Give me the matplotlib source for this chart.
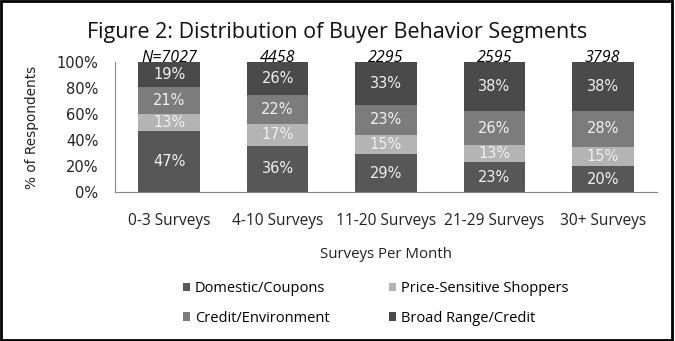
import matplotlib.pyplot as plt
import numpy as np
from matplotlib.patches import Rectangle

categories = ['0-3 Surveys', '4-10 Surveys', '11-20 Surveys', '21-29 Surveys', '30+ Surveys']
n_labels = ['N=7027', '4458', '2295', '2595', '3798']
segments = ['Domestic/Coupons', 'Price-Sensitive Shoppers', 'Credit/Environment', 'Broad Range/Credit']
domestic = [47, 36, 29, 23, 20]
price = [13, 17, 15, 13, 15]
credit = [21, 22, 23, 26, 28]
broad = [19, 26, 33, 38, 38]
colors = ['#575757', '#b4b4b4', '#7c7c7c', '#4a4a4a']

series = [domestic, price, credit, broad]
totals = np.sum(series, axis=0)
font = 'Open Sans'

fig = plt.figure(figsize=(6.75, 3.41), dpi=100)
ax = fig.add_axes([115 / 675, 1 - 192 / 341, 542 / 675, 130 / 341])

x = np.arange(len(categories))
bottom = np.zeros(len(categories))
bars = []
for vals, col, name in zip(series, colors, segments):
    frac = np.array(vals) / totals
    bars.append(ax.bar(x, frac, 0.57, bottom=bottom, color=col, label=name))
    for xi, b, f, v in zip(x, bottom, frac, vals):
        ax.text(xi, b + f / 2, f'{v}%', ha='center', va='center',
                color='#f0f0f0', fontsize=10.5, family='DejaVu Sans')
    bottom += frac

for xi, lab in zip(x, n_labels):
    ax.text(xi, 0.97, lab, ha='center', va='bottom', fontsize=11.5,
            style='italic', family=font, color='black')

ax.set_xlim(-0.5, 4.5)
ax.set_ylim(0, 1)
ax.set_yticks(np.linspace(0, 1, 6))
ax.set_yticklabels([f'{int(v)}%' for v in np.linspace(0, 100, 6)],
                   fontsize=10.5, color='#222222')
ax.set_xticks(x)
ax.set_xticklabels(categories, fontsize=11.2, family=font, color='#222222')
ax.tick_params(axis='y', length=0, pad=12)
ax.tick_params(axis='x', length=0, pad=15)
for s in ['top', 'right']:
    ax.spines[s].set_visible(False)
ax.spines['left'].set_color('#888888')
ax.spines['bottom'].set_color('#888888')
ax.set_ylabel('% of Respondents', fontsize=9.8, family='DejaVu Sans', color='#222222')
ax.yaxis.set_label_coords(-0.14, 0.5)
ax.set_xlabel('Surveys Per Month', fontsize=10.8, family=font, color='#222222')
ax.xaxis.set_label_coords(0.5, -0.42)

fig.suptitle('Figure 2: Distribution of Buyer Behavior Segments', y=0.935,
             fontsize=15.5, family=font, color='#111111')

order = [0, 2, 1, 3]
fig.legend([bars[i] for i in order], [segments[i] for i in order], ncol=2,
           loc='upper left', bbox_to_anchor=(183 / 675, 1 - 281 / 341),
           frameon=False, borderpad=0, borderaxespad=0,
           prop={'family': font, 'size': 10.5},
           handlelength=0.5, handleheight=0.5, handletextpad=0.3,
           columnspacing=4.1, labelspacing=1.0)

fig.patches.append(Rectangle((0.002, 0.003), 0.994, 0.994, transform=fig.transFigure,
                             fill=False, edgecolor='black', linewidth=2))

plt.savefig('out.png', dpi=100)
